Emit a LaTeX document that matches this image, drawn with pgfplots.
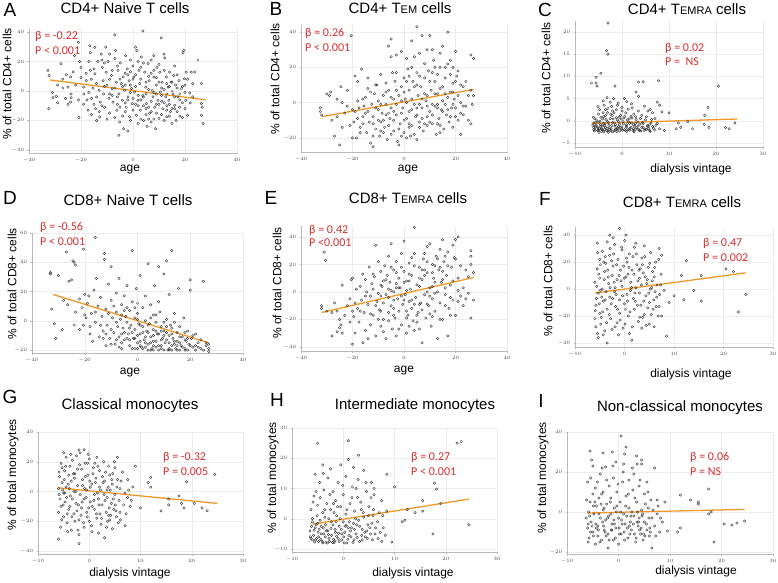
\documentclass[border=0pt]{standalone}
\usepackage{pgfplots}
\pgfplotsset{compat=1.18}
\usepackage{fontspec}
\setmainfont{Liberation Sans}
\newfontfamily\carlito{Carlito}
\definecolor{regline}{RGB}{240,152,40}
\definecolor{annred}{RGB}{215,45,45}
\definecolor{gridgray}{RGB}{236,236,236}
\definecolor{axisgray}{RGB}{185,185,185}
\newcommand{\scs}[1]{{\fontsize{11}{11}\selectfont #1}}
\pgfplotsset{
  panel/.style={scale only axis, axis lines=left, axis line style={draw=axisgray, line width=0.4pt, -},
    grid=major, major grid style={draw=gridgray, line width=0.4pt},
    tick style={draw=axisgray, line width=0.3pt}, major tick length=1.5pt, tick align=outside,
    ticklabel style={font=\fontsize{4}{4}\selectfont, text=black!75},
    anchor=south west},
  pts/.style={only marks, mark=o, mark size=1.25pt, mark options={line width=0.35pt, draw=black!85}},
  rl/.style={draw=regline, line width=1.3pt, no marks},
}
\newcommand{\ttl}[1]{{\fontsize{15}{15}\selectfont #1}}
\newcommand{\ylab}[1]{{\fontsize{12}{12}\selectfont #1}}
\newcommand{\ann}[1]{{\carlito\fontsize{12}{12}\selectfont\color{annred} #1}}
\newcommand{\plet}[1]{{\fontsize{19}{19}\selectfont #1}}
\begin{document}
\begin{tikzpicture}[x=1pt,y=1pt]
\useasboundingbox (0,0) rectangle (778,582);
% ---------------- A
\begin{axis}[panel, at={(29pt,429pt)}, width=208pt, height=124pt,
  xmin=-40, xmax=40, ymin=-42, ymax=42, xtick={-40,-20,0,20,40}, ytick={-40,-20,0,20,40}]
\addplot[pts] coordinates {
(-32.7,14) (-32.3,10.5) (-32.4,-12) (-30.8,-4.5) (-29.5,-3.6) (-29,-8) (-27.7,18.6) (-27,8) (-25.6,11) (-25,2.7)
(-24,9.5) (-23.8,-2) (-23.8,-4.5) (-24,-7.5) (-22.5,24) (-21,33) (-20.8,-18) (-20.5,20) (-20,16) (-19,2.7)
(-18.9,-2) (-18,7) (-17.7,-6) (-17.3,-13) (-17,20) (-16.6,30.6) (-16.4,26) (-16.4,14) (-16,-5) (-15.4,2)
(-14.7,29.5) (-14.7,11.7) (-14.4,-12) (-14,5) (-13.5,20) (-13,0.5) (-12.8,-17.5) (-12.6,-7.5) (-12.2,25) (-11.8,16)
(-11.5,7) (-11.3,-2) (-10.9,-11) (-10.5,29.7) (-10.3,12.8) (-10,4) (-9.6,20) (-9.2,-5) (-9,-15) (-8.3,10.5)
(-8,1.5) (-7.7,-7.5) (-7,38) (-7,22) (-6.7,27.5) (-6.4,6) (-6.2,-13) (-5.8,14) (-5.4,-2) (-5.4,-30)
(-5.1,-21) (-4.9,19) (-4.5,5) (-4.1,-6.3) (-3.8,9.5) (-3.6,-25.5) (-3.2,0.5) (-2.8,24) (-2.6,-11) (-2.2,15)
(-1.9,-4) (-1.5,7) (-1.3,-17.5) (-1,21) (-0.6,1.6) (-0.3,-8.5) (0,17) (0.3,9.5) (0.6,-0.7) (1,29.7)
(1.3,-16.5) (1.5,27.5) (1.9,-6.3) (2.3,14) (2.6,5) (2.8,-13) (3.2,23) (3.8,40.7) (3.8,-3) (4.1,-20)
(4.5,12.8) (4.9,2.7) (5.1,-8.5) (5.4,-24) (5.8,18.6) (6.2,7) (6.4,-15) (7,21) (7.4,0.5) (7.7,-4)
(8,9.5) (8.3,-11) (8.7,-25.5) (9,4) (9.2,16) (9.6,-6.3) (10,-18.6) (10.3,12.8) (10.5,-0.7) (10.9,36)
(11.2,6) (11.5,-12) (11.9,25) (12.2,22.5) (12.6,-4) (12.8,9.5) (13,-17.5) (13.5,2.7) (13.8,-6.3) (14,12.8)
(14.4,-14) (14.7,6) (15,-22) (15.4,-2) (15.6,10.5) (16,-9.7) (16.4,4) (16.6,-20) (17.3,-4) (17.7,7)
(17.9,-11) (18.6,1.6) (19.2,26) (19.5,27.5) (19.8,8.3) (20.3,-6.3) (20.5,12.8) (21,-16.5) (21.8,-1.3) (22.4,12.8)
(23,5) (23.7,12.8) (25,21) (26.3,5) (26.3,-8.5) (26.3,-16.5) (27,-22) (26.6,-11)
(-8,-3) (-6,-9) (-4,3) (-3,-14) (-2,11) (-1,-1) (0,-5) (1,3) (2,-10) (3,8) (4,-4) (5,-12) (6,1) (7,-7) (8,14)
(9,-2) (10,-9) (11,2) (12,-8) (13,5) (-12,-10) (-11,3) (-9,8) (-7,-18) (-5,-11) (-3,4) (-1,-20) (1,-9) (3,-19)
(5,-2) (7,-14) (9,-15) (11,-3) (13,-10) (15,0) (17,-14) (19,-8) (-14,-4) (-16,8) (-18,12) (-20,9) (-22,4)
(-26,-5) (-15,-9) (6,10) (8,-19) (14,-17) (16,-12) (18,-17) (20,-1) (-2,-27) (2,-22) (12,-20)
(-19,-9) (-17,-1) (-15,15) (-13,-14) (-11,19) (-9,-2) (-8,14) (-6,-4) (-5,8) (-4,-17) (-3,12) (-2,-6) (-1,4)
(0,-13) (1,11) (2,-3) (3,16) (4,-10) (5,6) (6,-19) (7,12) (8,-1) (9,-9) (10,6) (11,-16) (12,1) (13,-2) (14,-9)
(15,6) (16,-4) (17,2) (18,-6) (19,3) (20,-12) (21,8) (22,-8) (23,-4) (-21,-6) (-23,13) (-25,-9) (-27,2) (-29,4)
(-31,-1) (-10,-19) (-7,2) (-3,-8) (0,8) (4,19) (7,-21) (10,18) (13,-13) (16,17) (19,-18) (-12,21) (-6,17)
(2,20) (8,24) (-14,-20) (-1,13) (5,-16) (11,-7) (15,-12) (17,11) (-16,-16) (-9,25) (3,-6) (6,-11) (9,9)
(12,14) (14,3) (18,-2) (20,4)
};
\addplot[rl] coordinates {(-32,7.5) (28,-6)};
\end{axis}
% ---------------- B
\begin{axis}[panel, at={(301pt,430pt)}, width=206pt, height=127pt,
  xmin=-40, xmax=40, ymin=-28, ymax=44, xtick={-40,-20,0,20,40}, ytick={-20,0,20,40}]
\addplot[pts] coordinates {
(-32.5,-3) (-32.5,-5) (-32,-7) (-30,5) (-29,4) (-28.5,6) (-27,-19) (-26,-8) (-25,-24) (-24.5,9) (-24,0) (-23,-6)
(-21,-13) (-20.5,38) (-20,-20) (-19.5,-11) (-19,-5) (-18.5,-20) (-18,12) (-17.5,-3) (-17,-14) (-16.5,19) (-16,-8)
(-15.5,-2) (-15,3) (-14.5,-17) (-14,8) (-13.5,-11) (-13,-23) (-12.5,-1) (-12,-25) (-12,-8) (-11.5,5) (-11,-15)
(-10.5,10) (-10,-4) (-10,1) (-9.5,-19) (-9,16) (-9,-11) (-8.5,-6) (-8,4) (-7.5,-14) (-7,11) (-7,-1) (-6.5,-21)
(-6,7) (-6,32) (-5.5,-9) (-5,26) (-5,36) (-5,-3) (-4.5,17) (-4,-16) (-4,2) (-3.5,12) (-3,-7) (-3,27) (-2.5,-22)
(-2,-24) (-2,4) (-1.5,-12) (-1,29) (-1,9) (-0.5,-3) (0,-17) (0,14) (0.5,2) (1,-9) (1,25) (1.5,19) (2,-5) (2,7)
(2.5,-19) (3,35) (3,-13) (3.5,12) (4,-1) (4,26) (4.5,-8) (5,43) (5,17) (5,-21) (5.5,4) (6,-11) (6,28) (6.5,9)
(7,38) (7,-3) (7.5,-16) (8,22) (8,14) (8.5,1) (9,-8) (9,30) (9.5,18) (10,38) (10,-5) (10.5,7) (11,30) (11,-12)
(11.5,24) (12,-2) (12,12) (12.5,-18) (13,16) (13,5) (13.5,-9) (14,28) (14,20) (14.5,-4) (15,32) (15,9) (15.5,-15)
(16,14) (16,-1) (16.5,-7) (17,40) (17,22) (17.5,-11) (18,6) (18,16) (18.5,-3) (19,-14) (19,11) (19.5,2) (20,29)
(20,-8) (20.5,15) (21,4) (22,-6) (22,-18) (23,9) (24,-2) (25,-10) (26,27) (26,7) (26,-12) (27,25) (27,4) (26.5,-1)
(-22,-2) (-18,-9) (-14,-5) (-11,-3) (-8,-10) (-6,-6) (-3,-1) (-1,-6) (1,0) (3,-4) (5,-7) (7,2) (9,-2) (11,-1)
(13,-3) (15,1) (17,-4) (19,-1) (21,-10) (23,-2) (-16,-12) (-9,-16) (-4,-10) (2,-12) (6,-14) (10,-11) (14,-13)
(-28,-10) (-26,2) (-24,-14) (-22,7) (-20,-4) (-18,1) (-17,-17) (-15,-6) (-13,6) (-12,-12) (-11,10) (-9,-1)
(-8,-17) (-7,6) (-6,-13) (-5,3) (-4,-5) (-3,17) (-2,-15) (-1,1) (0,-10) (0,6) (1,12) (2,-14) (3,2) (4,-18) (4,9)
(5,-3) (6,15) (7,-9) (8,5) (9,-13) (10,12) (11,-7) (12,20) (13,-12) (14,8) (15,-5) (16,20) (17,3) (18,-8) (19,6)
(20,-3) (21,18) (22,10) (23,-7) (24,12) (25,4) (-19,15) (-14,14) (-10,-10) (-5,-18) (-3,7) (1,-20) (3,20) (6,-1)
(8,-12) (12,5) (14,-17) (18,24) (20,12) (-16,2) (-12,-19) (-7,-7) (-1,-19) (2,15) (5,10) (9,4) (11,17) (13,-1)
(16,5) (19,20) (22,0)
};
\addplot[rl] coordinates {(-32,-8) (27,7.5)};
\end{axis}
% ---------------- C
\begin{axis}[panel, at={(575pt,434.6pt)}, width=188pt, height=126.5pt,
  xmin=-10, xmax=30, ymin=-6, ymax=22.5, xtick={-10,0,10,20,30}, ytick={-5,0,5,10,15,20}]
\addplot[pts] coordinates {
(-6.5,8.5) (-6,-1.5) (-6,-0.5) (-6,-2) (-5.8,0.5) (-5.5,9.8) (-5.5,8.5) (-5.3,7.8) (-5.5,-1) (-5.2,-2.2) (-5,1.5)
(-5,-0.3) (-4.8,2.5) (-4.8,-1.8) (-4.5,10.7) (-4.5,0.8) (-4.3,-2.4) (-4.2,-1.2) (-4,4.5) (-4,-0.6) (-3.8,3.5)
(-3.8,-2) (-3.5,1.2) (-3.5,-1.5) (-3.3,15.8) (-3.2,5.2) (-3.1,-0.2) (-3,22) (-3,15) (-3,2.8) (-3,-2.3) (-2.8,-1)
(-2.5,4.2) (-2.5,0.5) (-2.3,-1.8) (-2.2,3.2) (-2,-0.4) (-2,-2.5) (-1.8,5) (-1.7,1.8) (-1.5,7.8) (-1.5,-1.2)
(-1.3,-2.1) (-1.2,2.5) (-1,0.2) (-1,-1.6) (-0.8,4) (-0.5,-0.8) (-0.5,-2.3) (-0.3,1.2) (0,3) (0,-1.4) (0.2,-0.2)
(0.5,5) (0.5,-2) (0.8,1.8) (1,-0.9) (1,-2.4) (1.3,2.6) (1.5,0.4) (1.7,-1.7) (2,3.8) (2,-0.5) (2.3,-2.2) (2.5,1.5)
(2.7,-1.2) (3,6.5) (3,0.3) (3.2,-1.9) (3.5,8.7) (3.5,5.5) (3.5,2.2) (3.8,-0.8) (4,-2.3) (4.2,1.2) (4.5,8.8)
(4.5,-1.5) (4.8,3.3) (5,0.2) (5.2,-2) (5.5,2.2) (5.8,-0.9) (6,2.5) (6,-2.4) (6.5,1.8) (6.5,-1.3) (7,0.5) (7,-2.1)
(7.5,4.2) (7.5,-0.6) (7.8,9) (8,3.5) (8,-1.8) (8.5,2) (9,-2.2) (10,1.8) (11.5,-1.8) (12,-0.5) (12.5,-1.5) (14,-0.2)
(15,-1.8) (17.5,-0.8) (17.6,1.2) (18.3,3) (18.5,-1.5) (20.5,7.8) (22,-1.5) (22.8,-1.8) (24,-0.5)
(-5.7,-1.2) (-5.4,0.2) (-4.6,-0.9) (-4.1,0.4) (-3.6,-0.7) (-3.4,0.3) (-2.7,-1.6) (-2.1,1.2) (-1.6,-0.5) (-1.1,-2.4)
(-0.6,0.8) (-0.1,-1.9) (0.4,0.6) (0.9,-1.5) (1.4,-0.3) (1.9,1) (2.4,-1.8) (2.9,-0.6) (3.4,-1.2) (4.4,-0.4)
(5.4,-1.1) (6.3,0.3) (-5.9,-2.3) (-5.1,-1.6) (-4.4,-1.9) (-3.9,-2.5) (-3.2,-1.7) (-2.4,-2.2) (-1.4,-1.9)
(-0.7,-1.3) (0.7,-2.2) (1.6,-2.1) (2.6,-2.5) (3.6,-2) (4.7,-2.2) (5.7,-1.7) (-4.9,-2.6) (-2.9,-2.6)
(-5.8,-1.8) (-5.6,-0.3) (-5.3,-1.4) (-5,-2.1) (-4.7,-0.1) (-4.5,-1.3) (-4.2,-2) (-3.9,0.9) (-3.7,-1.1) (-3.3,-2.2)
(-3.1,1.8) (-2.9,-0.4) (-2.6,-2) (-2.4,1.5) (-2.2,-1.1) (-1.9,0.4) (-1.7,-2.3) (-1.4,-0.9) (-1.2,0.7) (-0.9,-1.8)
(-0.7,-0.2) (-0.4,-1.5) (-0.2,0.4) (0.1,-2.1) (0.3,-0.7) (0.6,1) (0.9,-1.2) (1.1,0.2) (1.4,-2) (1.6,-0.6)
(1.9,-1.5) (2.1,0.6) (2.4,-0.9) (2.6,-2.1) (2.9,0.9) (3.1,-1.6) (3.4,-0.3) (3.7,-2.2) (3.9,0.5) (4.2,-1.5)
(4.5,-0.6) (4.9,-1.9) (5.2,0.9) (5.5,-1.3) (5.9,-2.2) (6.2,-0.5) (6.7,-1.7) (7.2,-1) (-4,1.8) (-2,2.2) (0,2.2)
(2.2,2.9) (-5.1,3.2) (-3.5,2.5) (-1,3.5) (1,4.3) (-6.2,-1) (-6.1,0.8)
};
\addplot[rl] coordinates {(-6.5,-0.6) (24.5,0.4)};
\end{axis}
% ---------------- D
\begin{axis}[panel, at={(32pt,229pt)}, width=211pt, height=120pt,
  xmin=-40, xmax=40, ymin=-22, ymax=60, xtick={-40,-20,0,20,40}, ytick={-20,0,20,40,60}]
\addplot[pts] coordinates {
(-33,33) (-33,32) (-32.5,8) (-31.5,-2) (-31,-12) (-30,31) (-28.5,-6) (-28,14) (-27,47) (-26.5,11) (-26,27)
(-25,28) (-24.5,41) (-24,40) (-24,-3) (-23.5,38) (-23.5,6) (-22,15) (-21,9) (-20.5,49) (-20.5,-3) (-20,18)
(-19.5,2) (-19,12) (-18.5,17) (-18,-9) (-17.5,5) (-17,-14) (-16.5,21) (-16,57) (-16,-1) (-15.5,29) (-15,10)
(-14.5,-11) (-14,16) (-13.5,3) (-13,-7) (-12.5,46) (-12.5,42) (-12,-17) (-12,8) (-11.5,-3) (-11,25) (-10.5,-12)
(-10,37) (-10,14) (-9.5,2) (-9,-8) (-8.5,-16) (-8,19) (-8,6) (-7.5,-4) (-7,29) (-7,-11) (-6.5,1) (-6,-19) (-6,11)
(-5.5,-5) (-5,17) (-5,-13) (-4.5,3) (-4,-1) (-4,24) (-3.5,-9) (-3,7) (-3,-17) (-2.5,-3) (-2,48) (-2,13)
(-1.5,-12) (-1,2) (-1,-6) (-0.5,22) (0,-15) (0,5) (0.5,-2) (1,31) (1,-9) (1.5,-18) (2,9) (2,-4) (2.5,-13) (3,17)
(3,0) (3.5,-7) (4,39) (4,-16) (4.5,-2) (5,11) (5,-11) (5.5,-19) (6,4) (6,-6) (6.5,24) (7,-14) (7,-1) (7.5,-9)
(8,37) (8,-17) (8.5,6) (9,-4) (9,-19) (9.5,-12) (10,32) (10,-7) (10.5,-15) (11,41) (11,1) (11.5,-20) (12,-10)
(12,18) (12.5,-3) (13,48) (13,-17) (13.5,-12) (14,5) (14.5,-19) (15,-8) (15,-14) (15.5,22) (16,-4) (16.5,-17)
(17,-11) (17.5,2) (18,-19) (18.5,-14) (19,-7) (19.5,-16) (20,28) (20,21) (20.5,-12) (21,-18) (22,-9) (23,-15)
(24,-19) (25,27) (26,-17) (27,-21) (27,-19) (27,-16)
(0,-10) (2,-19) (4,-20) (6,-20) (8,-20) (10,-20) (12,-19) (14,-16) (16,-20) (18,-13) (3,-11) (5,-15) (7,-7)
(9,-13) (11,-8) (13,-5) (-2,-8) (-4,-12) (-6,-9) (-8,-13) (-10,-6) (1,-3) (-1,-19) (6,-10)
(-14,-3) (-13,-12) (-11,5) (-10,-16) (-9,10) (-7,-18) (-6,4) (-5,-8) (-4,9) (-3,-13) (-2,-19) (-1,-12) (0,1)
(1,-17) (2,-8) (3,-18) (4,-3) (5,-20) (6,-14) (7,4) (8,-9) (9,-17) (10,-1) (11,-13) (12,-20) (13,-9) (14,-14)
(15,-20) (16,-11) (17,-18) (18,-8) (19,-20) (20,-17) (21,-10) (22,-20) (23,-18) (24,-13) (25,-20) (26,-15)
(-8,-1) (-3,-5) (1,-14) (4,-8) (7,-18) (10,-10) (13,-20) (16,-15) (19,-12) (22,-17) (-12,-9) (-6,-15) (0,-19)
(3,-15) (6,-17) (9,-7) (12,-15) (15,-17) (18,-20) (-16,6) (-18,-4) (-20,4) (-22,-6) (0,12) (5,2) (8,13) (-5,7)
(-1,9) (11,-4) (14,-1)
};
\addplot[rl] coordinates {(-32,18) (27,-15)};
\end{axis}
% ---------------- E
\begin{axis}[panel, at={(301pt,231pt)}, width=206pt, height=125pt,
  xmin=-40, xmax=40, ymin=-43, ymax=48, xtick={-40,-20,0,20,40}, ytick={-40,-20,0,20,40}]
\addplot[pts] coordinates {
(-32,-10) (-32,-12) (-31,29) (-30.5,23) (-30,-14) (-28,-15) (-28,-32) (-27,-8) (-26,-29) (-25,-20) (-25,-26)
(-24.5,-24) (-24,-30) (-24,5) (-22,-10) (-21,-5) (-20.5,9) (-20,-38) (-20,10) (-19.5,-18) (-19,-30) (-18.5,2)
(-18,-12) (-17.5,-22) (-17,4) (-16.5,-6) (-16,-37) (-15.5,-15) (-15,9) (-15,-28) (-14.5,0) (-14,-9) (-13.5,18)
(-13,-24) (-13,-3) (-12.5,6) (-12,-17) (-11.5,11) (-11,34) (-11,-32) (-10.5,-7) (-10,22) (-10,-1) (-9.5,-13)
(-9,15) (-9,-25) (-8.5,4) (-8,-20) (-8,-8) (-7.5,19) (-7,-2) (-7,-34) (-6.5,12) (-6,-15) (-6,26) (-5.5,7) (-5,35)
(-5,-10) (-4.5,-27) (-4,16) (-4,0) (-3.5,-19) (-3,-32) (-3,22) (-2.5,-5) (-2,10) (-2,-14) (-1.5,3) (-1,-24)
(-1,28) (-0.5,-9) (0,37) (0,15) (0.5,-2) (1,-30) (1,8) (1.5,-17) (2,21) (2,-7) (2.5,2) (3,-12) (3,12) (3.5,-21)
(4,47) (4,28) (4.5,-4) (5,5) (5.5,-15) (6,18) (6,-27) (6.5,-8) (7,-37) (7,9) (7.5,24) (8,-2) (8.5,-19) (9,14)
(9,33) (9.5,-10) (10,35) (10,3) (10.5,-25) (11,20) (11,-5) (11.5,10) (12,-14) (12.5,26) (13,-34) (13,0) (13.5,16)
(14,-8) (14.5,7) (15,38) (15,-20) (15.5,22) (16,-2) (16.5,12) (17,-32) (17,29) (17.5,-12) (18,5) (18.5,18)
(19,-6) (19.5,25) (20,38) (20,-17) (21,40) (21,10) (22,-3) (23,-10) (24,16) (25,-1) (26,30) (26,26) (26,20)
(26,-19) (27,14) (27,-6)
(-12,2) (-8,8) (-6,-4) (-4,-12) (-2,3) (0,-6) (2,8) (4,-9) (6,4) (8,12) (10,-3) (12,7) (14,18) (16,3) (18,-4)
(-3,6) (1,-14) (5,-17) (9,-9) (-9,-14) (-5,18) (3,25) (7,16) (11,-18) (15,9)
(-23,-17) (-21,-22) (-19,-8) (-17,-14) (-15,-3) (-13,-16) (-12,13) (-10,-20) (-9,5) (-8,-29) (-7,9) (-6,-21)
(-5,1) (-4,-17) (-3,14) (-2,-27) (-1,-3) (0,7) (1,-19) (2,13) (3,-6) (4,19) (5,-22) (6,10) (7,-13) (8,28) (9,0)
(10,-16) (11,14) (12,-1) (13,24) (14,-20) (15,15) (16,-10) (17,19) (18,-17) (19,8) (20,24) (21,-7) (22,19)
(23,3) (24,-5) (25,11) (-11,-10) (-6,2) (-1,18) (4,-28) (9,22) (14,31) (19,34) (-14,-34) (-9,-3) (-4,-6) (1,1)
(6,-9) (11,4) (16,26) (21,1) (-16,13) (-20,-14) (-26,-14) (-3,3) (2,-25) (8,16) (12,19)
};
\addplot[rl] coordinates {(-32,-15) (27,10.5)};
\end{axis}
% ---------------- F
\begin{axis}[panel, at={(575pt,235pt)}, width=198pt, height=120pt,
  xmin=-10, xmax=30, ymin=-43, ymax=46, xtick={-10,0,10,20,30}, ytick={-40,-20,0,20,40}]
\addplot[pts] coordinates {
(-6,-22) (-6,5) (-5.8,-12) (-5.5,34) (-5.5,-33) (-5.5,15) (-5.3,-3) (-5,22) (-5,-18) (-5,8) (-4.8,-26) (-4.5,28)
(-4.5,0) (-4.3,-9) (-4,-31) (-4,13) (-3.8,19) (-3.5,-40) (-3.5,-15) (-3.5,35) (-3.2,4) (-3,40) (-3,-6) (-3,25)
(-2.8,-22) (-2.5,10) (-2.5,-30) (-2.3,17) (-2,-2) (-2,33) (-1.8,-13) (-1.5,7) (-1.5,-25) (-1.3,22) (-1,45) (-1,-8)
(-1,-18) (-0.8,14) (-0.5,2) (-0.5,29) (-0.3,-29) (0,36) (0,-11) (0.3,9) (0.5,-4) (0.5,20) (0.8,-20) (1,26)
(1,-33) (1.3,5) (1.5,-38) (1.5,14) (1.8,-7) (2,31) (2,-15) (2.3,1) (2.5,18) (2.8,-24) (3,8) (3,-3) (3.3,-12)
(3.5,23) (3.5,-29) (3.8,12) (4,32) (4,-19) (4.3,-5) (4.5,4) (4.8,16) (5,-10) (5,-26) (5.3,27) (5.5,1) (5.8,-15)
(6,9) (6,-28) (6.3,20) (6.5,-6) (6.8,-20) (7,30) (7,-13) (7.3,3) (7.5,25) (7.5,-20) (8,-1) (8.5,-35) (9,-10)
(10,-5) (11.5,10) (12,-8) (12.5,21) (14,-1) (15.5,10) (15.5,-9) (20.5,15) (22,13) (23,-17) (24.5,-4)
(-5.7,-7) (-5.2,11) (-4.7,-21) (-4.2,20) (-3.7,-2) (-3.3,9) (-2.7,-11) (-2.2,26) (-1.7,-4) (-1.2,-34) (-0.7,6)
(-0.2,17) (0.2,-15) (0.7,11) (1.2,-1) (1.7,24) (2.2,-9) (2.7,6) (3.2,15) (3.7,-21) (4.2,9) (4.7,-14) (5.2,0)
(5.7,13) (6.2,-2) (-5.9,-16) (-4.9,-1) (-3.9,-8) (-2.9,30) (-1.9,1)
(-5.8,-28) (-5.6,2) (-5.4,27) (-5.1,-11) (-4.9,18) (-4.6,-6) (-4.4,-17) (-4.1,7) (-3.9,24) (-3.6,-25) (-3.4,14)
(-3.1,-19) (-2.9,1) (-2.6,21) (-2.4,-7) (-2.1,5) (-1.9,-28) (-1.6,18) (-1.4,-15) (-1.1,10) (-0.9,-23) (-0.6,31)
(-0.4,-5) (-0.1,8) (0.1,-26) (0.4,23) (0.6,-9) (0.9,16) (1.1,-17) (1.4,1) (1.6,-28) (1.9,11) (2.1,-3) (2.4,26)
(2.6,-12) (2.9,14) (3.1,-21) (3.4,3) (3.6,18) (3.9,-9) (4.1,24) (4.4,-27) (4.6,7) (4.9,-3) (5.1,19) (5.4,-19)
(5.6,6) (5.9,-8) (6.1,16) (6.4,-13) (6.6,3) (6.9,22) (7.1,-4) (7.4,11) (-5.3,-36) (-4.3,-34) (-2.3,38) (0.3,40)
(2.3,34)
};
\addplot[rl] coordinates {(-6,-3) (24.5,12)};
\end{axis}
% ---------------- G
\begin{axis}[panel, at={(38pt,28pt)}, width=205pt, height=122pt,
  xmin=-10, xmax=30, ymin=-42, ymax=40, xtick={-10,0,10,20,30}, ytick={-40,-20,0,20,40}]
\addplot[pts] coordinates {
(-6,-32) (-6,-14) (-6,2) (-5.8,10) (-5.7,-5) (-5.5,19) (-5.5,-10) (-5.3,6) (-5,26) (-5,-17) (-5,-1) (-4.8,14)
(-4.7,-7) (-4.5,23) (-4.5,3) (-4.3,-21) (-4,11) (-4,-12) (-3.8,17) (-3.7,-3) (-3.5,-26) (-3.5,7) (-3.3,21)
(-3,-15) (-3,0) (-2.8,12) (-2.6,-8) (-2.5,24) (-2.3,4) (-2,-35) (-2,-29) (-2,28) (-2,-19) (-1.8,-2) (-1.5,15)
(-1.5,-11) (-1.3,8) (-1,28) (-1,-24) (-1,-5) (-0.8,19) (-0.5,1) (-0.5,-14) (-0.3,11) (0,-20) (0,22) (0.2,-7)
(0.5,5) (0.5,-27) (0.8,16) (1,-2) (1,-12) (1.3,9) (1.5,-18) (1.5,23) (1.8,-5) (2,3) (2,14) (2.3,-22) (2.5,-9)
(2.8,20) (3,-31) (3,7) (3.3,-14) (3.5,1) (3.5,-4) (3.8,17) (4,-19) (4,11) (4.3,-8) (4.5,-25) (4.5,5) (4.8,-12)
(5,-2) (5,16) (5.3,-17) (5.5,23) (5.5,8) (5.8,-6) (6,2) (6,-14) (6.5,13) (7,-23) (7,-1) (7.5,8) (7.5,-4) (8,-10)
(8.5,3) (9,17) (10,-11) (11.5,6) (12,9.5) (12,3) (14,-13) (15.5,-5) (15.5,-9) (17.5,-3) (18,-8) (18.5,-11)
(19,6.5) (20.5,-8) (22,-11) (23,-13) (24.5,11.5)
(-5.9,-2) (-5.4,-19) (-4.9,8) (-4.4,-4) (-3.9,2) (-3.4,-17) (-2.9,9) (-2.4,-13) (-1.9,18) (-1.4,-7) (-0.9,2)
(-0.4,-17) (0.1,7) (0.6,-10) (1.1,19) (1.6,-1) (2.1,-15) (2.6,10) (3.1,-6) (3.6,-20) (4.1,1) (4.6,12) (5.1,-9)
(6.1,-19)
(-5.9,13) (-5.6,-24) (-5.3,16) (-5.1,-9) (-4.8,-1) (-4.6,17) (-4.3,-15) (-4.1,5) (-3.8,-10) (-3.6,25) (-3.3,-5)
(-3.1,12) (-2.8,-20) (-2.6,0) (-2.3,15) (-2.1,-9) (-1.8,26) (-1.6,-16) (-1.3,4) (-1.1,-21) (-0.8,10) (-0.6,-4)
(-0.3,19) (-0.1,-11) (0.2,3) (0.4,-23) (0.7,12) (0.9,-6) (1.2,6) (1.4,-15) (1.7,17) (1.9,-9) (2.2,1) (2.4,-18)
(2.7,6) (2.9,-2) (3.2,13) (3.4,-24) (3.7,3) (3.9,-11) (4.2,-16) (4.4,8) (4.7,-5) (4.9,20) (5.2,-13) (5.4,3)
(5.7,-21) (6.2,7) (6.7,-9) (7.2,-15) (7.7,1) (8.2,-6) (-5.2,1) (-4.2,-27) (-2.2,-26) (-0.2,25) (1.8,-28) (3.8,-16)
};
\addplot[rl] coordinates {(-6,2.5) (25,-8)};
\end{axis}
% ---------------- H
\begin{axis}[panel, at={(292pt,30pt)}, width=205pt, height=124pt,
  xmin=-10, xmax=30, ymin=-11, ymax=30, xtick={-10,0,10,20,30}, ytick={-10,0,10,20,30}]
\addplot[pts] coordinates {
(-6.5,-4) (-6.3,3) (-6,-7) (-6,0) (-5.8,-5.5) (-5.5,14.7) (-5.5,-3) (-5.3,9) (-5.2,-6.5) (-5,25) (-5,-1.5)
(-5,4.5) (-4.8,-7.5) (-4.7,-3.5) (-4.5,7) (-4.5,-0.5) (-4.3,-5) (-4,17.8) (-4,2) (-4,-8) (-3.8,9.5) (-3.5,-2)
(-3.5,-6) (-3.2,5) (-3,13.5) (-3,-4) (-2.8,0) (-2.7,-7.5) (-2.5,16.5) (-2.5,3) (-2.3,-5.5) (-2,9) (-2,-2)
(-1.8,-8) (-1.5,6) (-1.5,-4.5) (-1.3,1) (-1,12) (-1,-6.5) (-0.8,-2.5) (-0.5,17.8) (-0.5,4) (-0.3,-7) (0,-1)
(0,8) (0.3,-4.5) (0.5,1.5) (0.7,-8) (1,25.8) (1,19.6) (1,-3) (1.3,5) (1.5,-6) (1.8,10.5) (2,17) (2,-1.5)
(2.2,2.5) (2.5,-5) (2.8,7) (3,21) (3,-0.5) (3.2,-7.5) (3.5,3) (3.7,-3.5) (4,16) (4,0.5) (4.3,-6) (4.5,9)
(4.8,-2) (5,4) (5.3,-5) (5.5,12) (5.8,1) (6,10) (6,8) (6.3,-3) (6.8,-6.5) (7,2) (7.5,6) (7.5,-7.5) (7.8,-3)
(8.5,14.7) (8.5,2.5) (9.5,-7.7) (10,10.5) (11.5,-1) (12,-0.5) (12.5,3) (14,2) (15.5,6) (15.5,2.5) (17.5,-5)
(17.8,11.8) (18.2,9.8) (19,5) (22.2,25) (23,25.5) (24.5,-2)
(-6.2,-2.5) (-5.7,-3.8) (-5.4,-7) (-4.9,-4.5) (-4.4,-6.8) (-3.9,-3) (-3.4,-7.8) (-2.9,-5.2) (-2.4,-3.2)
(-1.9,-6.8) (-1.4,-1) (-0.9,-4.8) (-0.4,-3.5) (0.1,-6) (0.6,-2.2) (1.1,-5.5) (1.6,-3) (2.1,-7) (2.6,-2)
(3.6,-5.5) (4.6,-4) (5.6,-1.5) (-6.4,-6) (-3.6,0.5) (-1.6,-7.3)
(-6.3,-6.5) (-6,-1) (-5.9,5.5) (-5.6,-7.7) (-5.3,-2) (-5.1,1) (-4.8,-6) (-4.6,12) (-4.3,-2.5) (-4.1,-7.5)
(-3.8,-5) (-3.6,3) (-3.3,-4) (-3.1,-8) (-2.8,-6.5) (-2.6,8) (-2.3,-1) (-2.1,-7.8) (-1.8,2) (-1.6,-3.5)
(-1.3,-5.8) (-1.1,4) (-0.8,-7.5) (-0.6,0) (-0.3,-5) (-0.1,11) (0.2,-8) (0.4,-2.5) (0.7,3) (0.9,-6.8) (1.2,-1)
(1.4,-4) (1.7,7) (1.9,-7.8) (2.2,-3.5) (2.4,0) (2.7,-6.2) (2.9,13) (3.2,-2.5) (3.4,5.5) (3.7,-7) (3.9,2)
(4.2,-4.5) (4.4,12) (4.7,-6.5) (4.9,1) (5.2,-3) (5.4,7) (5.7,-7) (5.9,3) (6.2,-5) (6.7,-1) (7.2,-4.5) (7.7,1)
(8.2,-5.5) (-5.7,7.5) (-3.9,15) (-1.9,5) (0.5,14) (2.5,10)
};
\addplot[rl] coordinates {(-6,-1.8) (24.5,6.5)};
\end{axis}
% ---------------- I
\begin{axis}[panel, at={(567pt,28pt)}, width=206pt, height=122pt,
  xmin=-10, xmax=30, ymin=-21, ymax=40, xtick={-10,0,10,20,30}, ytick={-20,0,20,40}]
\addplot[pts] coordinates {
(-6.3,-3) (-6,15) (-6,-8) (-5.8,0) (-5.7,-13) (-5.5,30.5) (-5.5,5) (-5.3,-5) (-5,23) (-5,-10) (-5,9) (-4.8,-1)
(-4.5,-16) (-4.5,12) (-4.3,3) (-4,-7) (-4,-12) (-3.8,7) (-3.5,19) (-3.5,-3) (-3.3,-14) (-3,29.5) (-3,10) (-3,1)
(-2.8,-9) (-2.5,22.5) (-2.5,-4) (-2.3,4) (-2,-18) (-2,-11) (-1.8,13) (-1.5,-1) (-1.5,7) (-1.3,-6) (-1,17)
(-1,-14) (-0.8,2) (-0.5,25) (-0.5,-8) (-0.3,10) (0,-16) (0,-3) (0.3,5) (0.5,38) (0.5,-11) (0.8,15) (1,24) (1,-1)
(1.3,-6) (1.5,32.5) (1.5,8) (1.8,-13) (2,16) (2,2) (2.3,-5) (2.5,-9) (2.8,11) (3,-2) (3,19) (3.3,-15) (3.5,28)
(3.5,5) (3.8,-7) (4,13) (4,-3) (4.3,-11) (4.5,26) (4.5,24) (4.5,1) (4.8,-14) (5,9) (5,-5) (5.5,15) (5.5,-9)
(5.8,2) (6,-12) (6.3,6) (6.5,-18) (6.5,-3) (7,22) (7,-7) (7.5,6) (7.5,-1) (8,-10) (8.5,-5) (9,5) (9.5,-9.5)
(11.5,-10) (12,8.5) (12,-8) (14,6) (15.5,5) (15.5,4) (17.5,11.5) (17.5,-1) (18,0) (18.5,-15) (20.5,-6) (22,-6.5)
(23,-5.5) (24.5,-4.5)
(-5.9,-6) (-5.4,-10) (-4.9,3) (-4.4,-6) (-3.9,-9) (-3.4,4) (-2.9,-7) (-2.4,-12) (-1.9,-2) (-1.4,-9) (-0.9,-4)
(-0.4,0) (0.1,-8) (0.6,-4) (1.1,-10) (1.6,-2) (2.1,-7) (2.6,0) (3.1,-11) (3.6,-5) (4.1,-9) (4.6,-2) (5.1,-12)
(6.1,-8)
(-6.2,6) (-5.9,-15) (-5.6,-2) (-5.4,17) (-5.1,-7) (-4.9,-12) (-4.6,5) (-4.3,-8) (-4.1,15) (-3.8,-1) (-3.6,-15)
(-3.3,9) (-3.1,-5) (-2.8,2) (-2.6,-10) (-2.3,16) (-2.1,-3) (-1.8,-14) (-1.6,5) (-1.3,-9) (-1.1,23) (-0.8,-6)
(-0.6,-13) (-0.3,3) (-0.1,14) (0.2,-11) (0.4,0) (0.7,-6) (0.9,20) (1.2,-14) (1.4,3) (1.7,-8) (1.9,9) (2.2,-11)
(2.4,-2) (2.7,22) (2.9,-6) (3.2,7) (3.4,-13) (3.7,0) (3.9,-5) (4.2,16) (4.4,-8) (4.7,-1) (4.9,-11) (5.2,4)
(5.4,-6) (5.7,10) (5.9,-3) (6.2,-10) (6.7,1) (7.2,-12) (7.7,3) (8.2,-3) (-5.2,26) (-3.2,22) (-1.2,30) (1.2,29)
(3.6,24)
};
\addplot[rl] coordinates {(-6,-0.5) (24.5,1.3)};
\end{axis}
% ---------------- text
\node at (10,572) {\plet{A}};
\node at (276,573) {\plet{B}};
\node at (545,572) {\plet{C}};
\node at (10,384) {\plet{D}};
\node at (271,384) {\plet{E}};
\node at (545,383) {\plet{F}};
\node at (10,185) {\plet{G}};
\node at (277,182) {\plet{H}};
\node at (541,181) {\plet{I}};
\node at (125,574) {\ttl{CD4+ Naive T cells}};
\node at (400,574) {\ttl{CD4+ T\scs{EM} cells}};
\node at (687,573) {\ttl{CD4+ T\scs{EMRA} cells}};
\node at (128,382) {\ttl{CD8+ Naive T cells}};
\node at (408,384) {\ttl{CD8+ T\scs{EMRA} cells}};
\node at (682,380) {\ttl{CD8+ T\scs{EMRA} cells}};
\node at (130,176) {\ttl{Classical monocytes}};
\node at (415,176) {\ttl{Intermediate monocytes}};
\node at (680,174) {\ttl{Non-classical monocytes}};
\node[rotate=90] at (7,498) {\ylab{\% of total CD4+ cells}};
\node[rotate=90] at (275,503) {\ylab{\% of total CD4+ cells}};
\node[rotate=90] at (546,504) {\ylab{\% of total CD4+ cells}};
\node[rotate=90] at (12,298) {\ylab{\% of total CD8+ cells}};
\node[rotate=90] at (277,299) {\ylab{\% of total CD8+ cells}};
\node[rotate=90] at (548,301) {\ylab{\% of total CD8+ cells}};
\node[rotate=90] at (13,107) {\ylab{\% of total monocytes}};
\node[rotate=90] at (273,104) {\ylab{\% of total monocytes}};
\node[rotate=90] at (543,104) {\ylab{\% of total monocytes}};
\node at (130,412) {\ylab{age}};
\node at (408,412) {\ylab{age}};
\node at (691,413) {\ylab{dialysis vintage}};
\node at (130,209) {\ylab{age}};
\node at (404,211) {\ylab{age}};
\node at (691,208) {\ylab{dialysis vintage}};
\node at (130,9) {\ylab{dialysis vintage}};
\node at (413,9) {\ylab{dialysis vintage}};
\node at (696,11) {\ylab{dialysis vintage}};
\node[anchor=west,inner sep=0pt] at (35,546) {\ann{β = -0.22}};
\node[anchor=west,inner sep=0pt] at (35,531) {\ann{P < 0.001}};
\node[anchor=west,inner sep=0pt] at (305,549) {\ann{β = 0.26}};
\node[anchor=west,inner sep=0pt] at (305,534) {\ann{P < 0.001}};
\node[anchor=west,inner sep=0pt] at (665,534) {\ann{β = 0.02}};
\node[anchor=west,inner sep=0pt] at (665,520) {\ann{P =\ \ NS}};
\node[anchor=west,inner sep=0pt] at (40,355) {\ann{β = -0.56}};
\node[anchor=west,inner sep=0pt] at (40,340) {\ann{P < 0.001}};
\node[anchor=west,inner sep=0pt] at (309,352) {\ann{β = 0.42}};
\node[anchor=west,inner sep=0pt] at (309,339) {\ann{P <0.001}};
\node[anchor=west,inner sep=0pt] at (703,339) {\ann{β = 0.47}};
\node[anchor=west,inner sep=0pt] at (703,324) {\ann{P = 0.002}};
\node[anchor=west,inner sep=0pt] at (163,125) {\ann{β = -0.32}};
\node[anchor=west,inner sep=0pt] at (163,110) {\ann{P = 0.005}};
\node[anchor=west,inner sep=0pt] at (411,125) {\ann{β = 0.27}};
\node[anchor=west,inner sep=0pt] at (411,110) {\ann{P < 0.001}};
\node[anchor=west,inner sep=0pt] at (690,125) {\ann{β = 0.06}};
\node[anchor=west,inner sep=0pt] at (690,110) {\ann{P = NS}};
\end{tikzpicture}
\end{document}
